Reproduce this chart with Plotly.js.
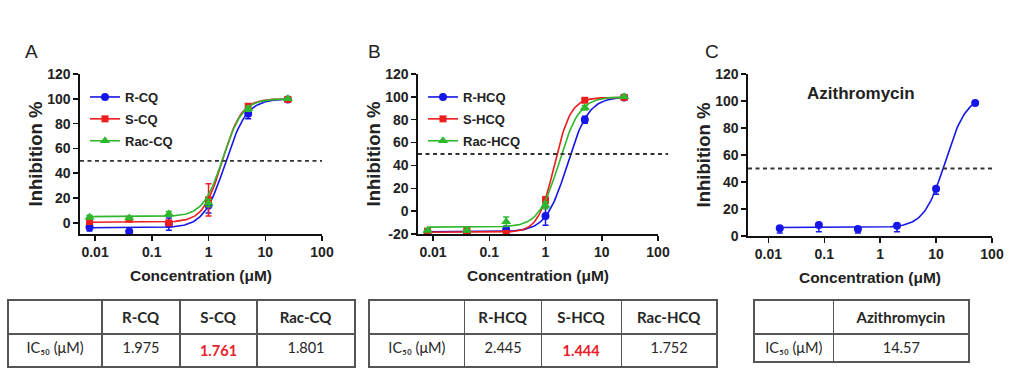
<!DOCTYPE html>
<html>
<head>
<meta charset="utf-8">
<script src="https://cdn.plot.ly/plotly-3.0.1.min.js"></script>
<style>html,body{margin:0;padding:0;background:#fff;}#chart{width:1013px;height:383px;}</style>
</head>
<body>
<div id="chart"></div>
<script>
// ---------- data ----------
const concAB = [0.008, 0.04, 0.2, 1, 5, 25];
const concC = [0.016, 0.08, 0.4, 2, 10, 50];

// Panel A
const namesA = ["R-CQ", "S-CQ", "Rac-CQ"];
const rcqY = [-3.5, -7, -1, 14, 88, 99.5];
const rcqErr = [3, 1.5, 5, 6, 4, 1];
const scqY = [1, 3, 0, 18.5, 94, 99.5];
const scqErr = [2, 2, 1, 13, 2, 0.5];
const raccqY = [4.6, 4, 7.2, 16, 92, 100];
const raccqErr = [1.5, 1, 2, 3, 2, 0.5];
const ic50A = [1.975, 1.761, 1.801];
const bottomA = [-4, 0.5, 5];
const topA = [100, 100, 100];
const hillA = [2.3, 2.6, 2.5];

// Panel B
const namesB = ["R-HCQ", "S-HCQ", "Rac-HCQ"];
const rhcqY = [-18.5, -18.5, -16, -4.3, 80, 99.5];
const rhcqErr = [2, 1, 3, 8, 3, 1];
const shcqY = [-17.5, -17, -19.5, 9.7, 97, 99.5];
const shcqErr = [1, 1, 1, 3, 1, 0.5];
const rachcqY = [-17, -17, -9.2, 5, 90.5, 100];
const rachcqErr = [1, 1, 4, 3, 2, 0.5];
const ic50B = [2.445, 1.444, 1.752];
const bottomB = [-18, -18.5, -14];
const topB = [100, 99.5, 100];
const hillB = [2.3, 3.0, 2.4];

// Panel C
const nameC = "Azithromycin";
const aziY = [5.7, 8.1, 5.2, 7.6, 35, 98.5];
const aziErrUp = [1, 1, 1, 1, 1, 0.5];
const aziErrDn = [3.5, 5, 3, 4.5, 4, 1];
const ic50C = [14.57];
const bottomC = [6.3];
const topC = [104];
const hillC = [2.3];

// Tick labels
const xTickVals = [0.01, 0.1, 1, 10, 100];
const xTickText = ["0.01", "0.1", "1", "10", "100"];
const yTicksA = [0, 20, 40, 60, 80, 100, 120];
const yTicksB = [-20, 0, 20, 40, 60, 80, 100, 120];
const yTicksC = [0, 20, 40, 60, 80, 100, 120];

// Tables
const tableHeadA = ["", "R-CQ", "S-CQ", "Rac-CQ"];
const tableValA = ["1.975", "1.761", "1.801"];
const tableHeadB = ["", "R-HCQ", "S-HCQ", "Rac-HCQ"];
const tableValB = ["2.445", "1.444", "1.752"];
const tableHeadC = ["", "Azithromycin"];
const tableValC = ["14.57"];
const rowLabel = "IC₅₀ (μM)";

// ---------- style ----------
const FONT = "Liberation Sans, Arial, sans-serif";
const TFONT = "Lato, Liberation Sans, sans-serif";
const COLORS = ["#1616e8", "#ee1c1c", "#2eb82e"];
const SYMBOLS = ["circle", "square", "triangle-up"];
const SIZES = [8, 7, 9];

function logistic(x, b, t, ic, h) { return b + (t - b) / (1 + Math.pow(ic / x, h)); }
function fitCurve(xs, b, t, ic, h) {
  const lo = Math.log10(xs[0]), hi = Math.log10(xs[xs.length - 1]);
  const X = [], Y = [];
  for (let i = 0; i <= 150; i++) {
    const x = Math.pow(10, lo + (hi - lo) * i / 150);
    X.push(x); Y.push(logistic(x, b, t, ic, h));
  }
  return {X, Y};
}

const traces = [];
function addSeries(xa, ya, xs, ys, errUp, errDn, k, b, t, ic, h) {
  const c = fitCurve(xs, b, t, ic, h);
  traces.push({
    type: "scatter", mode: "lines", x: c.X, y: c.Y, xaxis: xa, yaxis: ya,
    line: {color: COLORS[k], width: 1.6}, showlegend: false, hoverinfo: "skip"
  });
  traces.push({
    type: "scatter", mode: "markers", x: xs, y: ys, xaxis: xa, yaxis: ya,
    marker: {color: COLORS[k], symbol: SYMBOLS[k], size: SIZES[k]},
    error_y: {type: "data", array: errUp, arrayminus: errDn, symmetric: false, color: COLORS[k], thickness: 1.5, width: 3},
    showlegend: false
  });
}
function addLegendOnly(xa, ya, legend, k, name) {
  traces.push({
    type: "scatter", mode: "lines+markers", x: [null], y: [null], xaxis: xa, yaxis: ya,
    name: name, legend: legend, legendgroup: legend + k,
    line: {color: COLORS[k], width: 1.6},
    marker: {color: COLORS[k], symbol: SYMBOLS[k], size: SIZES[k]},
    showlegend: true
  });
}

const ysA = [rcqY, scqY, raccqY], esA = [rcqErr, scqErr, raccqErr];
const ysB = [rhcqY, shcqY, rachcqY], esB = [rhcqErr, shcqErr, rachcqErr];
for (let k = 0; k < 3; k++) addSeries("x", "y", concAB, ysA[k], esA[k], esA[k], k, bottomA[k], topA[k], ic50A[k], hillA[k]);
for (let k = 0; k < 3; k++) addSeries("x2", "y2", concAB, ysB[k], esB[k], esB[k], k, bottomB[k], topB[k], ic50B[k], hillB[k]);
addSeries("x3", "y3", concC, aziY, aziErrUp, aziErrDn, 0, bottomC[0], topC[0], ic50C[0], hillC[0]);
for (let k = 0; k < 3; k++) addLegendOnly("x", "y", "legend", k, namesA[k]);
for (let k = 0; k < 3; k++) addLegendOnly("x2", "y2", "legend2", k, namesB[k]);

// tables
function tableTrace(head, vals, xd, widths, redCol) {
  const headerVals = head.map(h => [h ? "<b>" + h + "</b>" : " "]);
  const cellVals = [[rowLabel]].concat(vals.map((v, i) => [i === redCol ? "<b>" + v + "</b>" : v]));
  const colColors = cellVals.map((_, i) => [i === redCol + 1 ? "#e8202a" : "#262626"]);
  return {
    type: "table", domain: {x: xd, y: [0.0, (383 - 300) / 383]},
    columnwidth: widths,
    header: {values: headerVals, height: 28, align: "center",
      line: {color: "#555", width: 1.5}, fill: {color: "#fff"},
      font: {family: TFONT, size: 15, color: "#262626"}},
    cells: {values: cellVals, height: 28, align: "center",
      line: {color: "#555", width: 1.5}, fill: {color: "#fff"},
      font: {family: TFONT, size: 14.5, color: colColors}}
  };
}
traces.push(tableTrace(tableHeadA, tableValA, [8 / 1013, 355 / 1013], [94, 78, 77, 98], 1));
traces.push(tableTrace(tableHeadB, tableValB, [369 / 1013, 718 / 1013], [96, 77, 80, 96], 1));
traces.push(tableTrace(tableHeadC, tableValC, [754 / 1013, 970 / 1013], [80, 136], -5));

function xAxis(dom, range, anchor) {
  return {
    type: "log", domain: dom, range: range, anchor: anchor,
    showgrid: false, zeroline: false, showline: true, linecolor: "#111", linewidth: 1.6,
    ticks: "outside", ticklen: 5, tickwidth: 1.5, tickcolor: "#111",
    tickvals: xTickVals, ticktext: xTickText,
    tickfont: {family: FONT, size: 14, weight: "bold", color: "#222"},
    title: {text: "Concentration (μM)", font: {family: FONT, size: 15.5, weight: "bold", color: "#222"}, standoff: 11},
    fixedrange: true
  };
}
function yAxis(dom, range, ticks, anchor) {
  return {
    domain: dom, range: range, anchor: anchor,
    showgrid: false, zeroline: false, showline: true, linecolor: "#111", linewidth: 1.6,
    ticks: "outside", ticklen: 5, tickwidth: 1.5, tickcolor: "#111",
    tickvals: ticks, ticktext: ticks.map(String),
    tickfont: {family: FONT, size: 14, weight: "bold", color: "#222"},
    title: {text: "Inhibition %", font: {family: FONT, size: 18.5, weight: "bold", color: "#222"}, standoff: 0},
    fixedrange: true
  };
}
const yd = [(383 - 234) / 383, (383 - 74) / 383];
const ydC = [(383 - 236) / 383, (383 - 74) / 383];

function dash(xref, yref, x1) {
  return {type: "line", xref: xref, yref: yref, x0: 0, x1: x1, y0: 50, y1: 50,
    line: {color: "#333", width: 1.8, dash: "4px,3.5px"}};
}
function legendBox(xpx, ypx) {
  return {x: xpx / 1013, y: (383 - ypx) / 383, xanchor: "left", yanchor: "top",
    bgcolor: "rgba(0,0,0,0)", borderwidth: 0, tracegroupgap: 2,
    font: {family: FONT, size: 13, weight: "bold", color: "#222"}};
}
function label(text, xpx, ypx, size, bold) {
  return {text: text, x: xpx / 1013, y: (383 - ypx) / 383, xref: "paper", yref: "paper",
    xanchor: "center", yanchor: "middle", showarrow: false,
    font: {family: FONT, size: size, weight: bold ? "bold" : "normal", color: "#222"}};
}
const layout = {
  width: 1013, height: 383, margin: {l: 0, r: 0, t: 0, b: 0},
  paper_bgcolor: "#fff", plot_bgcolor: "rgba(0,0,0,0)",
  xaxis: xAxis([80 / 1013, 322 / 1013], [-2.265, 2], "y"),
  yaxis: yAxis(yd, [-9, 120], yTicksA, "x"),
  xaxis2: xAxis([418 / 1013, 658 / 1013], [-2.267, 2], "y2"),
  yaxis2: yAxis(yd, [-20, 120], yTicksB, "x2"),
  xaxis3: xAxis([748 / 1013, 992 / 1013], [-2.364, 2], "y3"),
  yaxis3: yAxis(ydC, [0, 120], yTicksC, "x3"),
  legend: legendBox(85, 82),
  legend2: legendBox(423, 82),
  shapes: [dash("x domain", "y", 1), dash("x2 domain", "y2", 1.042), dash("x3 domain", "y3", 1.004)],
  annotations: [
    label("A", 32, 51, 19, false),
    label("B", 374, 51, 19, false),
    label("C", 712, 51, 19, false),
    label(nameC, 861, 93, 17, true)
  ],
  showlegend: true
};
Plotly.newPlot("chart", traces, layout, {staticPlot: true, displayModeBar: false});
</script>
</body>
</html>
